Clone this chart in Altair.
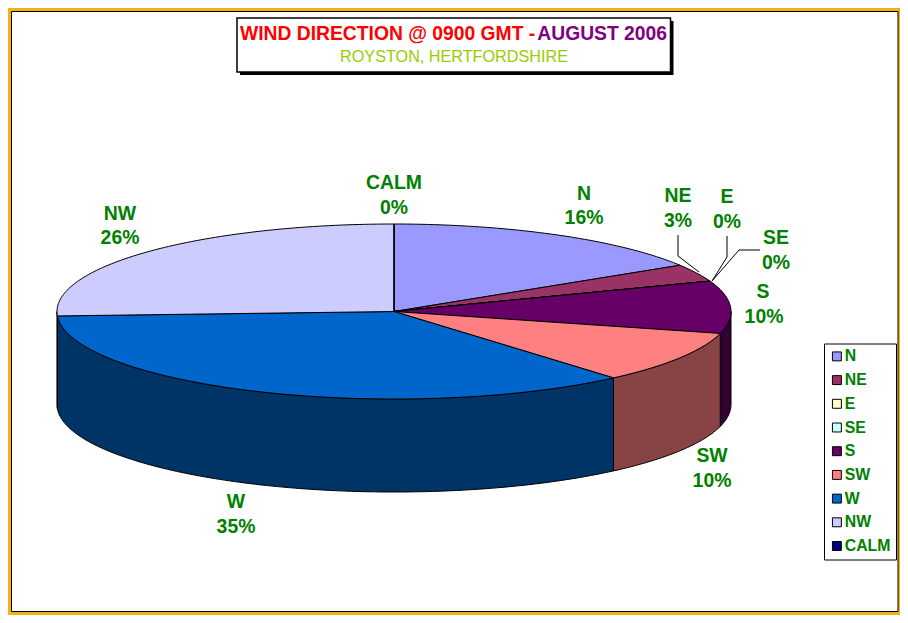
import altair as alt
import numpy as np
import pandas as pd

# ---- data
directions = ["N", "NE", "E", "SE", "S", "SW", "W", "NW", "CALM"]
days = [5, 1, 0, 0, 3, 3, 11, 8, 0]
colors = ["#9999FF", "#993366", "#FFFFCC", "#CCFFFF", "#660066", "#FF8080", "#0066CC", "#CCCCFF", "#000080"]
side_colors = ["#4C4C80", "#4D1A33", "#808066", "#668080", "#330033", "#884444", "#003366", "#666680", "#000040"]

# ---- layout (page pixels)
CX, CY, RX, RY, DEPTH = 394.0, 311.5, 337.0, 87.5, 93.0
label_pos = {
    "CALM": (394, 183, 394, 208), "N": (584, 194, 584, 218), "NE": (678, 196, 678, 221),
    "E": (727, 197, 727, 222), "SE": (776, 238, 776, 263), "S": (763, 292, 764, 317),
    "SW": (712, 456, 712, 481), "W": (236, 502, 236, 527), "NW": (120, 214, 120, 238),
}
leaders = {"NE": [(678, 235), (678, 256), (699, 272)],
           "E": [(727, 236), (727, 257), (712, 281)],
           "SE": [(760, 250), (739, 250), (712, 281)]}

GREEN = "#008000"
FONT = "Liberation Sans"
YELLOW = "#F2B411"
W, H = 892, 607

total = sum(days)
edges = np.cumsum([0] + days) / total * 360.0


def rim(a, dy=0.0):
    r = np.radians(a)
    return CX + RX * np.sin(r), CY - RY * np.cos(r) + dy


top_rows, wall_rows = [], []
for i, d in enumerate(directions):
    a0, a1 = edges[i], edges[i + 1]
    arc = np.linspace(a0, a1, max(2, int(a1 - a0) + 2))
    pts = [(CX, CY)] + [rim(a) for a in arc] + [(CX, CY)]
    for k, (x, y) in enumerate(pts):
        top_rows.append({"dir": d, "x": x, "y": y, "k": k})
    w0, w1 = max(a0, 90.0), min(a1, 270.0)
    if w1 > w0:
        arc = np.linspace(w0, w1, int(w1 - w0) + 2)
        pts = [rim(a) for a in arc] + [rim(a, DEPTH) for a in arc[::-1]]
        pts.append(pts[0])
        for k, (x, y) in enumerate(pts):
            wall_rows.append({"dir": d, "col": side_colors[i], "x": x, "y": y, "k": k})

X = alt.X("x:Q", scale=alt.Scale(domain=[8, 8 + W]), axis=None)
Y = alt.Y("y:Q", scale=alt.Scale(domain=[8 + H, 8]), axis=None)

walls = alt.Chart(pd.DataFrame(wall_rows)).mark_line(strokeWidth=1, stroke="black", strokeJoin="round").encode(
    x=X, y=Y, order="k:Q", detail="dir:N", fill=alt.Fill("col:N", scale=None, legend=None))

legend = alt.Legend(
    orient="none", legendX=816, legendY=335.5, title=None, values=directions,
    symbolType="square", symbolSize=80, symbolStrokeColor="black", symbolStrokeWidth=1,
    labelFont=FONT, labelFontSize=15.8, labelFontWeight="bold", labelColor=GREEN,
    strokeColor="black", fillColor="white", padding=5, rowPadding=6.7, labelOffset=0,
    symbolOffset=0, labelLimit=200)

tops = alt.Chart(pd.DataFrame(top_rows)).mark_line(strokeWidth=1, stroke="black", strokeJoin="round").encode(
    x=X, y=Y, order="k:Q",
    fill=alt.Fill("dir:N", scale=alt.Scale(domain=directions, range=colors), sort=directions, legend=legend))

text_rows = []
for d, c in zip(directions, days):
    x1, y1, x2, y2 = label_pos[d]
    text_rows.append({"x": x1, "y": y1, "t": d})
    text_rows.append({"x": x2, "y": y2, "t": f"{round(c / total * 100)}%"})
labels = alt.Chart(pd.DataFrame(text_rows)).mark_text(
    font=FONT, fontSize=19.4, fontWeight="bold", color=GREEN, baseline="middle", align="center"
).encode(x=X, y=Y, text="t:N")

leader_rows = [{"d": d, "k": k, "x": p[0], "y": p[1]} for d, ps in leaders.items() for k, p in enumerate(ps)]
leader = alt.Chart(pd.DataFrame(leader_rows)).mark_line(color="black", strokeWidth=1).encode(
    x=X, y=Y, order="k:Q", detail="d:N")


def box(x0, y0, x1, y1, **kw):
    return alt.Chart(pd.DataFrame({"a": [0]})).mark_rect(**kw).encode(
        x=alt.value(x0 - 8), x2=alt.value(x1 - 8), y=alt.value(y0 - 8), y2=alt.value(y1 - 8))


def note(x, y, t, color, align, size, weight):
    return alt.Chart(pd.DataFrame({"x": [x], "y": [y], "t": [t]})).mark_text(
        font=FONT, fontSize=size, fontWeight=weight, color=color, align=align, baseline="middle"
    ).encode(x=X, y=Y, text="t:N")


frame = box(11.5, 11.5, 898, 611.5, fill="white", stroke="black", strokeWidth=1)
shadow = box(240, 21, 673.5, 75, fill="black")
title_box = box(237, 18, 670.5, 72, fill="white", stroke="black", strokeWidth=1.5)
t1 = note(240, 33.5, "WIND DIRECTION @ 0900 GMT -", "#FF0000", "left", 19.3, "bold")
t2 = note(667, 33.5, "AUGUST 2006", "#800080", "right", 19.3, "bold")
t3 = note(454, 56.5, "ROYSTON, HERTFORDSHIRE", "#99CC00", "center", 16.2, "normal")

chart = alt.layer(frame, shadow, title_box, t1, t2, t3, walls, tops, leader, labels).resolve_scale(
    fill="independent"
).properties(
    width=W, height=H, padding=0, background=YELLOW,
    autosize=alt.AutoSizeParams(type="none"),
).configure_view(stroke=None)

chart.save("out.html", embed_options={"renderer": "svg", "actions": False})
